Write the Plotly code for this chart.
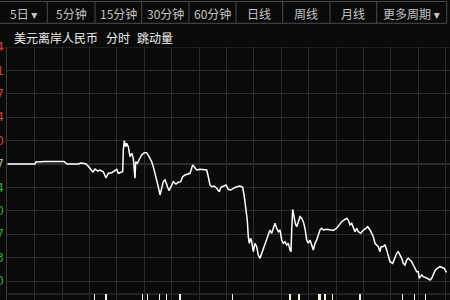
import plotly.graph_objects as go

# ---------------- data ----------------
# time axis: hours from the start of the 5-day window
times = [0.00, 7.58, 7.86, 10.32, 15.52, 16.34, 19.35, 20.17, 20.99, 21.54, 22.09, 22.64, 23.46, 24.01, 24.83,
         25.37, 26.28, 27.02, 27.65, 28.58, 29.48, 29.95, 30.38, 31.04, 31.59, 31.75, 32.03, 32.41, 32.68, 33.12,
         33.59, 34.05, 34.49, 34.95, 35.15, 35.58, 36.32, 36.79, 37.50, 38.16, 38.79, 39.53, 39.96, 40.43, 41.06,
         41.33, 41.80, 42.26, 42.70, 43.17, 43.63, 44.26, 44.81, 45.44, 46.18, 46.81, 47.46, 48.01, 48.64, 49.27,
         50.01, 50.75, 51.38, 51.84, 52.75, 53.65, 54.58, 55.02, 55.48, 55.95, 56.58, 57.32, 58.03, 58.49, 59.12,
         59.86, 60.49, 61.15, 61.86, 62.79, 63.69, 64.43, 64.87, 65.34, 65.69, 65.97, 66.24, 66.62, 66.90, 67.34,
         67.80, 68.27, 68.70, 69.17, 69.63, 70.07, 70.54, 71.00, 71.44, 71.91, 72.37, 72.81, 73.27, 73.74, 74.18,
         74.64, 75.11, 75.55, 76.01, 76.48, 76.92, 77.38, 77.66, 77.85, 78.12, 78.48, 78.83, 79.22, 79.65, 80.12,
         80.58, 81.02, 81.49, 81.95, 82.39, 82.85, 83.32, 83.76, 84.22, 84.69, 85.13, 85.59, 86.06, 86.50, 87.43,
         88.33, 89.23, 90.16, 90.88, 91.53, 92.16, 92.90, 93.34, 93.80, 94.27, 94.71, 95.17, 95.64, 96.08, 96.73,
         97.44, 98.18, 98.65, 99.28, 99.74, 100.18, 100.65, 101.11, 101.55, 102.02, 102.29, 102.75, 103.38, 103.85,
         104.29, 104.75, 105.49, 106.12, 106.59, 107.02, 107.49, 107.96, 108.39, 108.86, 109.32, 109.76, 110.23,
         110.69, 111.13, 111.60, 112.06, 112.50, 112.77, 113.43, 113.87, 114.61, 115.24, 115.70, 116.17, 116.61,
         117.07, 117.70, 118.44, 119.18, 119.62, 120.08, 120.36]

prices = [6.85700, 6.85700, 6.85729, 6.85736, 6.85736, 6.85700, 6.85700, 6.85715, 6.85707, 6.85700, 6.85671,
          6.85642, 6.85584, 6.85627, 6.85598, 6.85613, 6.85588, 6.85497, 6.85565, 6.85574, 6.85603, 6.85623,
          6.85565, 6.85574, 6.85588, 6.85903, 6.86039, 6.85951, 6.86001, 6.85951, 6.85806, 6.85855, 6.85783,
          6.85492, 6.85733, 6.85710, 6.85783, 6.85831, 6.85864, 6.85864, 6.85806, 6.85733, 6.85661, 6.85565,
          6.85468, 6.85370, 6.85250, 6.85347, 6.85443, 6.85468, 6.85395, 6.85312, 6.85370, 6.85443, 6.85409,
          6.85434, 6.85443, 6.85515, 6.85540, 6.85550, 6.85565, 6.85685, 6.85638, 6.85613, 6.85623, 6.85613,
          6.85613, 6.85515, 6.85395, 6.85370, 6.85380, 6.85347, 6.85298, 6.85361, 6.85380, 6.85395, 6.85332,
          6.85322, 6.85347, 6.85370, 6.85380, 6.85361, 6.85225, 6.85032, 6.84886, 6.84644, 6.84548, 6.84620,
          6.84571, 6.84426, 6.84548, 6.84498, 6.84378, 6.84330, 6.84402, 6.84450, 6.84523, 6.84596, 6.84693,
          6.84741, 6.84693, 6.84766, 6.84838, 6.84766, 6.84716, 6.84741, 6.84596, 6.84548, 6.84571, 6.84523,
          6.84548, 6.84450, 6.84426, 6.84741, 6.85042, 6.84934, 6.84838, 6.84789, 6.84862, 6.84934, 6.84911,
          6.84862, 6.84766, 6.84596, 6.84548, 6.84596, 6.84523, 6.84450, 6.84548, 6.84596, 6.84668, 6.84741,
          6.84766, 6.84741, 6.84751, 6.84741, 6.84734, 6.84766, 6.84814, 6.84862, 6.84886, 6.84911, 6.84886,
          6.84814, 6.84838, 6.84766, 6.84716, 6.84766, 6.84716, 6.84693, 6.84741, 6.84766, 6.84789, 6.84741,
          6.84693, 6.84644, 6.84548, 6.84523, 6.84498, 6.84426, 6.84498, 6.84498, 6.84523, 6.84450, 6.84353,
          6.84280, 6.84257, 6.84353, 6.84402, 6.84426, 6.84378, 6.84330, 6.84257, 6.84232, 6.84305, 6.84330,
          6.84305, 6.84280, 6.84232, 6.84185, 6.84135, 6.84135, 6.84039, 6.84087, 6.84062, 6.84048, 6.84025,
          6.84015, 6.84039, 6.84087, 6.84150, 6.84185, 6.84208, 6.84193, 6.84185, 6.84135, 6.84131]

vol_times = [23.81, 27.02, 37.06, 38.43, 41.61, 43.63, 47.27, 61.59, 77.38, 79.84, 85.13, 85.59, 86.96,
             88.96, 96.54, 108.17, 111.51, 114.55]
vol_values = [12, 10, 11, 14, 10, 13, 11, 10, 15, 12, 11, 10, 13, 12, 11, 10, 12, 14]

prev_close = 6.857
price_ticks = [6.8400, 6.8434, 6.8468, 6.8502, 6.8536, 6.8570, 6.8604, 6.8638, 6.8672, 6.8706, 6.8740]

tabs = ["5日 ▾", "5分钟", "15分钟", "30分钟", "60分钟", "日线", "周线", "月线", "更多周期 ▾"]
title_parts = ["美元离岸人民币", "分时", "跳动量"]

# ---------------- styling / layout helpers ----------------
W, H = 450, 300
BG = "#0a0a0a"
GRID = "#2c2c2c"
RED = "#d24444"
GREEN = "#3fa23f"
MID = "#b4b4b4"
FONT = "Noto Sans CJK SC, DejaVu Sans, sans-serif"

def fx(p):
    return p / W

def fy(p):
    return 1 - p / H

def tick_label(v):
    s = f"{v:.3f}"
    if round(v, 4) > prev_close:
        c = RED
    elif round(v, 4) < prev_close:
        c = GREEN
    else:
        c = MID
    return f"<span style='color:{c}'>{s}</span>"

x_range = [0, 121.18]
# price panel bottom extends below the last grid line to the volume separator
y_range = [6.838111, 6.874]

fig = go.Figure()
fig.add_trace(go.Scatter(x=times, y=prices, mode="lines",
                         line=dict(color="#ffffff", width=1.5),
                         xaxis="x", yaxis="y", hoverinfo="skip", showlegend=False))
fig.add_trace(go.Bar(x=vol_times, y=vol_values, width=0.3,
                     marker=dict(color="#f2f2e4", line=dict(width=0)),
                     xaxis="x", yaxis="y2", hoverinfo="skip", showlegend=False))

shapes = []
# tab bar
tab_edges = [0, 47.3, 95, 141.7, 189, 236, 282.7, 330, 376.7, 446.7]
line_c = "#4a4a4a"
shapes.append(dict(type="line", xref="paper", yref="paper", x0=fx(0), x1=fx(446.7), y0=fy(1.5), y1=fy(1.5),
                   line=dict(color=line_c, width=1)))
shapes.append(dict(type="line", xref="paper", yref="paper", x0=fx(0), x1=fx(446.7), y0=fy(23.3), y1=fy(23.3),
                   line=dict(color=line_c, width=1)))
for e in tab_edges[1:]:
    shapes.append(dict(type="line", xref="paper", yref="paper", x0=fx(e), x1=fx(e), y0=fy(1.5), y1=fy(23.3),
                       line=dict(color=line_c, width=1)))
# previous close line (brighter)
shapes.append(dict(type="line", xref="paper", yref="y", x0=fx(7.3), x1=1, y0=prev_close, y1=prev_close,
                   line=dict(color="#4e4e4e", width=1), layer="below"))
# top border and volume separator
shapes.append(dict(type="line", xref="paper", yref="y", x0=0, x1=1, y0=6.874, y1=6.874,
                   line=dict(color=GRID, width=1), layer="below"))
shapes.append(dict(type="line", xref="paper", yref="paper", x0=fx(7.3), x1=1, y0=fy(294), y1=fy(294),
                   line=dict(color="#3a3a3a", width=1), layer="below"))

annotations = []
for i, t in enumerate(tabs):
    cx = (tab_edges[i] + tab_edges[i + 1]) / 2
    annotations.append(dict(text=t, x=fx(cx), y=fy(13), xref="paper", yref="paper",
                            showarrow=False, xanchor="center", yanchor="middle",
                            font=dict(family=FONT, size=12, color="#c4c4c4")))
title_x = [12, 104, 135]
for t, x0 in zip(title_parts, title_x):
    annotations.append(dict(text=t, x=fx(x0), y=fy(37.5), xref="paper", yref="paper",
                            showarrow=False, xanchor="left", yanchor="middle",
                            font=dict(family=FONT, size=12, color="#f0f0f0")))

fig.update_layout(
    width=W, height=H,
    margin=dict(l=0, r=0, t=0, b=0),
    paper_bgcolor=BG, plot_bgcolor=BG,
    showlegend=False, hovermode=False, dragmode=False,
    bargap=0,
    shapes=shapes, annotations=annotations,
    xaxis=dict(domain=[fx(7.3), 1], range=x_range, tick0=0, dtick=7.5,
               showgrid=True, gridcolor=GRID, gridwidth=1,
               showticklabels=False, zeroline=False, showline=False, ticks="",
               automargin=False, fixedrange=True),
    yaxis=dict(domain=[1 - 294 / H, fy(47)], range=y_range, anchor="x",
               tickmode="array", tickvals=price_ticks, ticktext=[tick_label(v) for v in price_ticks],
               showgrid=True, gridcolor=GRID, gridwidth=1, zeroline=False,
               showline=True, linecolor="#3a3a3a", linewidth=1,
               ticks="", tickfont=dict(family="DejaVu Sans", size=12, color=MID),
               automargin=False, fixedrange=True),
    yaxis2=dict(domain=[0, 1 - 294 / H], range=[0, 10], anchor="x",
                tickmode="array", tickvals=[5], ticktext=["5"],
                showgrid=False, zeroline=False, showline=True, linecolor="#3a3a3a",
                ticks="", tickfont=dict(family="DejaVu Sans", size=12, color="#9a9a9a"),
                automargin=False, fixedrange=True),
)

fig.write_html("out.html", config={"displayModeBar": False, "staticPlot": True})
